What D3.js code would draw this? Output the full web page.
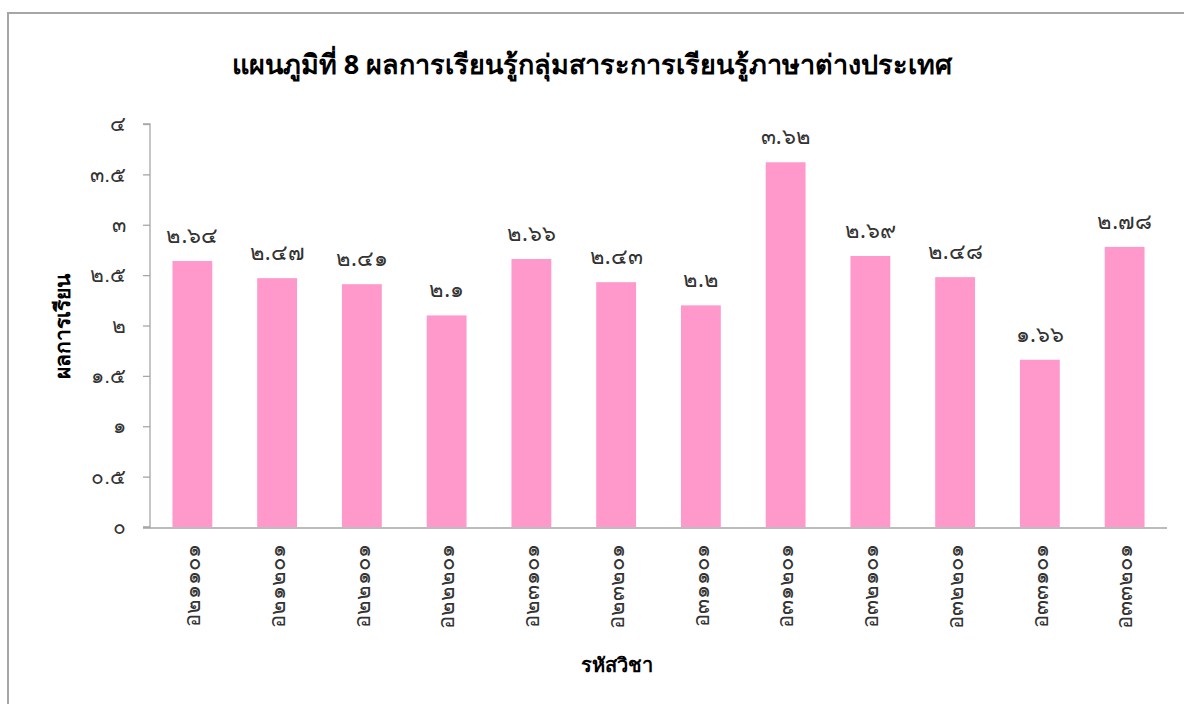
<!DOCTYPE html>
<html><head><meta charset="utf-8">
<script src="https://cdn.jsdelivr.net/npm/d3@7"></script>
<style>
body{margin:0;background:#fff;}
svg{display:block;font-family:"Noto Sans","DejaVu Sans",sans-serif;}
</style></head>
<body><svg id="c" width="1184" height="704"></svg>
<script>
const categories = ["อ๒๑๑๐๑","อ๒๑๒๐๑","อ๒๒๑๐๑","อ๒๒๒๐๑","อ๒๓๑๐๑","อ๒๓๒๐๑","อ๓๑๑๐๑","อ๓๑๒๐๑","อ๓๒๑๐๑","อ๓๒๒๐๑","อ๓๓๑๐๑","อ๓๓๒๐๑"];
const values = [2.64, 2.47, 2.41, 2.1, 2.66, 2.43, 2.2, 3.62, 2.69, 2.48, 1.66, 2.78];
const valueLabels = ["๒.๖๔","๒.๔๗","๒.๔๑","๒.๑","๒.๖๖","๒.๔๓","๒.๒","๓.๖๒","๒.๖๙","๒.๔๘","๑.๖๖","๒.๗๘"];
const yTicks = [0, 0.5, 1, 1.5, 2, 2.5, 3, 3.5, 4];
const yTickLabels = ["๐","๐.๕","๑","๑.๕","๒","๒.๕","๓","๓.๕","๔"];
const title = "แผนภูมิที่ 8 ผลการเรียนรู้กลุ่มสาระการเรียนรู้ภาษาต่างประเทศ";
const xTitle = "รหัสวิชา";
const yTitle = "ผลการเรียน";

const svg = d3.select("#c");
const L = 150, R = 1167, T = 124, B = 527;

// chart border
svg.append("path").attr("d","M8,710 L8,13 L1190,13").attr("fill","none").attr("stroke","#a6a6a6").attr("stroke-width",2);

const x = d3.scaleBand().domain(categories).range([L, R]).paddingInner(0.53).paddingOuter(0.265);
const y = d3.scaleLinear().domain([0,4]).range([B, T]);

// y axis
const yAxis = d3.axisLeft(y).tickValues(yTicks).tickSize(7).tickPadding(17)
  .tickFormat((d,i)=>yTickLabels[i]);
const gy = svg.append("g").attr("transform",`translate(${L},0)`).call(yAxis);
gy.select(".domain").attr("stroke","#a6a6a6").attr("stroke-width",1.3).attr("d",`M-7,${T}H0V${B}H-7`);
gy.selectAll(".tick line").attr("stroke","#a6a6a6").attr("stroke-width",1.3);
gy.selectAll(".tick text").attr("font-size",21).attr("fill","#333");

// bars
svg.selectAll("rect.bar").data(values).join("rect").attr("class","bar")
  .attr("x",(d,i)=>x(categories[i])).attr("width",x.bandwidth())
  .attr("y",d=>y(d)).attr("height",d=>y(0)-y(d)).attr("fill","#ff99cc");

// x axis
const xAxis = d3.axisBottom(x).tickSize(0).tickPadding(0);
const gx = svg.append("g").attr("transform",`translate(0,${B+1})`).call(xAxis);
gx.select(".domain").attr("stroke","#a6a6a6").attr("stroke-width",1.3).attr("d",`M143,0H${R}`);
gx.selectAll(".tick text").attr("font-size",22).attr("fill","#333")
  .attr("text-anchor","end").attr("dy","0.35em")
  .attr("transform","translate(0,16) rotate(-90)");

// data labels
svg.selectAll("text.lbl").data(values).join("text").attr("class","lbl")
  .attr("x",(d,i)=>x(categories[i])+x.bandwidth()/2).attr("y",d=>y(d)-18)
  .attr("text-anchor","middle").attr("font-size",22).attr("fill","#333")
  .text((d,i)=>valueLabels[i]);

// titles
svg.append("text").attr("x",592).attr("y",74).attr("text-anchor","middle")
  .attr("font-size",27).attr("font-weight","bold").attr("fill","#000").text(title);
svg.append("text").attr("x",617).attr("y",672).attr("text-anchor","middle")
  .attr("font-size",20).attr("font-weight","bold").attr("fill","#000").text(xTitle);
svg.append("text").attr("transform","translate(70,326) rotate(-90)").attr("text-anchor","middle")
  .attr("font-size",21).attr("font-weight","bold").attr("fill","#000").text(yTitle);
</script></body></html>
